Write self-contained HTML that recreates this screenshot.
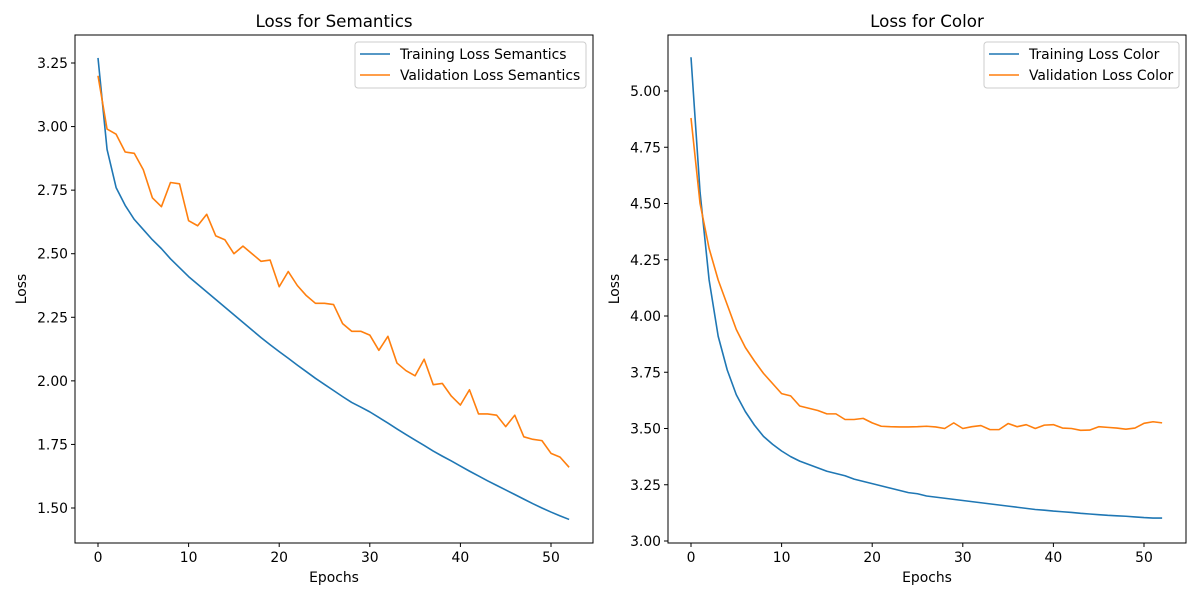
<!DOCTYPE html>
<html><head><meta charset="utf-8"><style>
body{margin:0;background:#fff;}
svg{display:block;font-family:"DejaVu Sans","Liberation Sans",sans-serif;}
</style></head><body>
<svg id="fig" width="1200" height="600" viewBox="0 0 1200 600"></svg>
<script>
const epochs = Array.from({length:53},(_,i)=>i);
const trainSem = [3.27,2.91,2.76,2.69,2.635,2.595,2.555,2.52,2.48,2.445,2.41,2.38,2.35,2.32,2.29,2.26,2.23,2.20,2.17,2.142,2.115,2.089,2.062,2.036,2.01,1.986,1.962,1.938,1.915,1.897,1.878,1.856,1.834,1.811,1.789,1.767,1.746,1.724,1.704,1.685,1.665,1.645,1.626,1.607,1.589,1.571,1.553,1.535,1.517,1.5,1.484,1.469,1.455];
const valSem = [3.20,2.99,2.97,2.90,2.895,2.83,2.72,2.685,2.78,2.775,2.63,2.61,2.655,2.57,2.555,2.50,2.53,2.50,2.47,2.475,2.37,2.43,2.375,2.335,2.305,2.305,2.30,2.225,2.195,2.195,2.18,2.12,2.175,2.07,2.04,2.02,2.085,1.985,1.99,1.94,1.905,1.965,1.87,1.87,1.865,1.82,1.865,1.78,1.77,1.765,1.715,1.70,1.66];
const trainCol = [5.15,4.55,4.16,3.91,3.76,3.65,3.575,3.515,3.465,3.43,3.40,3.375,3.355,3.34,3.325,3.31,3.30,3.29,3.275,3.265,3.255,3.245,3.235,3.225,3.215,3.21,3.20,3.195,3.19,3.185,3.18,3.175,3.17,3.165,3.16,3.155,3.15,3.145,3.14,3.137,3.133,3.13,3.127,3.123,3.12,3.117,3.114,3.112,3.11,3.107,3.104,3.102,3.102];
const valCol = [4.88,4.50,4.30,4.16,4.05,3.94,3.86,3.80,3.745,3.70,3.655,3.645,3.60,3.59,3.58,3.565,3.565,3.54,3.54,3.545,3.525,3.51,3.508,3.507,3.507,3.508,3.51,3.507,3.50,3.525,3.50,3.508,3.513,3.495,3.495,3.522,3.508,3.517,3.50,3.515,3.517,3.502,3.50,3.492,3.493,3.508,3.505,3.502,3.497,3.502,3.523,3.53,3.525];
const xTicks = [0,10,20,30,40,50];
const semYTicks = [1.50,1.75,2.00,2.25,2.50,2.75,3.00,3.25];
const colYTicks = [3.00,3.25,3.50,3.75,4.00,4.25,4.50,4.75,5.00];

const NS="http://www.w3.org/2000/svg";
const svg=document.getElementById('fig');
function mk(tag,attrs,parent){const e=document.createElementNS(NS,tag);for(const k in attrs)e.setAttribute(k,attrs[k]);(parent||svg).appendChild(e);return e;}

function panel(opt){
  const g=mk('g',{});
  
  
  const L=opt.left,R=opt.left+518,T=35,B=543;
  const xs=v=>L+23+(v-0)*(453/50);
  const ys=v=>opt.y0px+(v-opt.y0)*(opt.y1px-opt.y0px)/(opt.y1-opt.y0);
  xTicks.forEach(t=>{
    const x=xs(t);
    const tk=mk('line',{x1:x,x2:x,y1:B,y2:B+4,stroke:'#000','stroke-width':1},g);
    
    
    const tx=mk('text',{x:x,y:B+19,'text-anchor':'middle','font-size':13.9},g);
    tx.textContent=t;
    
    
  });
  opt.yTicks.forEach(t=>{
    const y=ys(t);
    const tk=mk('line',{x1:L-4,x2:L,y1:y,y2:y,stroke:'#000','stroke-width':1},g);
    
    
    const tx=mk('text',{x:L-7,y:y+5,'text-anchor':'end','font-size':13.9},g);
    tx.textContent=t.toFixed(2);
    
    
  });
  [[opt.train,'#1f77b4','training-line'],[opt.val,'#ff7f0e','validation-line']].forEach(([d,c,n])=>{
    const p=mk('polyline',{points:d.map((v,i)=>xs(epochs[i])+','+ys(v)).join(' '),fill:'none',stroke:c,'stroke-width':1.6,'stroke-linejoin':'round'},g);
    
    
  });
  const fr=mk('rect',{x:L,y:T,width:518,height:508,fill:'none',stroke:'#000','stroke-width':1},g);
  
  
  const ti=mk('text',{x:L+259,y:27,'text-anchor':'middle','font-size':16.7},g);
  ti.textContent=opt.title;
  
  
  const xl=mk('text',{x:L+259,y:582,'text-anchor':'middle','font-size':13.9},g);
  xl.textContent='Epochs';
  
  
  const yl=mk('text',{x:0,y:0,'text-anchor':'middle','font-size':13.9,transform:`translate(${L-49},${(T+B)/2}) rotate(-90)`},g);
  yl.textContent='Loss';
  
  
  const lg=mk('g',{},g);
  
  
  mk('rect',{x:opt.legX,y:42,width:R-7-opt.legX,height:46,rx:3,fill:'#fff',stroke:'#ccc','stroke-width':1},lg);
  [[opt.trainLabel,'#1f77b4',54],[opt.valLabel,'#ff7f0e',75]].forEach(([lab,c,y])=>{
    mk('line',{x1:opt.legX+5,x2:opt.legX+35,y1:y,y2:y,stroke:c,'stroke-width':1.6},lg);
    const t=mk('text',{x:opt.legX+45,y:y+5,'font-size':13.9},lg);
    t.textContent=lab;
    
    
  });
}
panel({name:'semantics-chart',left:75,title:'Loss for Semantics',train:trainSem,val:valSem,yTicks:semYTicks,y0:3.25,y0px:63,y1:1.50,y1px:508,legX:355,trainLabel:'Training Loss Semantics',valLabel:'Validation Loss Semantics'});
panel({name:'color-chart',left:668,title:'Loss for Color',train:trainCol,val:valCol,yTicks:colYTicks,y0:5.00,y0px:91,y1:3.00,y1px:541,legX:984,trainLabel:'Training Loss Color',valLabel:'Validation Loss Color'});
</script>
</body></html>
